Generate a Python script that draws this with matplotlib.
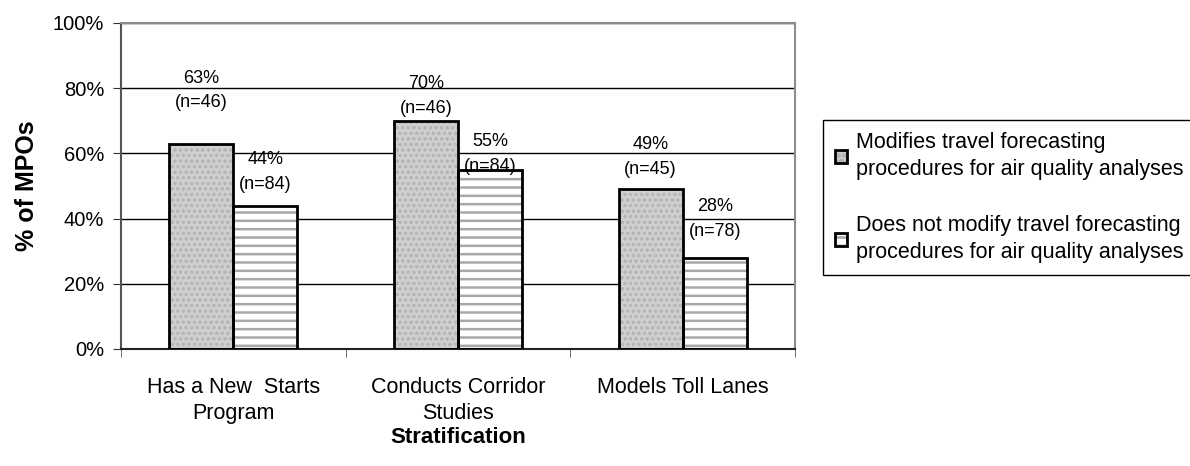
import matplotlib
import matplotlib.pyplot as plt
import numpy as np

matplotlib.use("Agg")

categories = ["Has a New  Starts\nProgram", "Conducts Corridor\nStudies", "Models Toll Lanes"]
modifies = [63, 70, 49]
modifies_n = [46, 46, 45]
not_modifies = [44, 55, 28]
not_modifies_n = [84, 84, 78]
series_names = [
    "Modifies travel forecasting\nprocedures for air quality analyses",
    "Does not modify travel forecasting\nprocedures for air quality analyses",
]


def main():
    plt.rcParams["font.family"] = ["Liberation Sans", "DejaVu Sans"]
    plt.rcParams["font.size"] = 14.5

    fig = plt.figure(figsize=(11.9, 4.66), dpi=100)
    ax = fig.add_axes([121 / 1190, 1 - 349 / 466, 674 / 1190, 326 / 466])

    x = np.arange(len(categories)) + 0.5
    w = 0.285

    # fill and outline drawn separately so the hatch can be grey
    plt.rcParams["hatch.linewidth"] = 0.6
    fill1 = ax.bar(x - w / 2, modifies, w, color="#cfcfcf", hatch="ooo",
                   edgecolor="#b4b4b4", linewidth=0, zorder=2)
    plt.rcParams["hatch.linewidth"] = 1.8
    fill2 = ax.bar(x + w / 2, not_modifies, w, color="white", hatch="--",
                   edgecolor="#a8a8a8", linewidth=0, zorder=2)
    edge1 = ax.bar(x - w / 2, modifies, w, fill=False, edgecolor="black",
                   linewidth=2, zorder=3)
    edge2 = ax.bar(x + w / 2, not_modifies, w, fill=False, edgecolor="black",
                   linewidth=2, zorder=3)

    # label positions (middle of the two text lines), as placed in the original
    pos1 = [79.3, 77.5, 58.8]
    pos2 = [54.2, 59.7, 39.8]
    for i in range(len(categories)):
        ax.text(x[i] - w / 2, pos1[i], f"{modifies[i]}%\n(n={modifies_n[i]})",
                ha="center", va="center", linespacing=1.6, fontsize=13, zorder=4)
        ax.text(x[i] + w / 2, pos2[i], f"{not_modifies[i]}%\n(n={not_modifies_n[i]})",
                ha="center", va="center", linespacing=1.6, fontsize=13, zorder=4)

    ax.set_xlim(0, len(categories))
    ax.set_ylim(0, 100)
    ax.set_yticks(range(0, 101, 20))
    ax.set_yticklabels([f"{v}%" for v in range(0, 101, 20)])
    ax.yaxis.grid(True, color="black", linewidth=1)
    ax.set_axisbelow(True)

    ax.set_xticks(x)
    ax.set_xticklabels(categories, linespacing=1.3, fontsize=15.5)
    ax.set_xticks(np.arange(len(categories) + 1), minor=True)
    ax.tick_params(axis="x", which="major", length=0, pad=20)
    ax.tick_params(axis="x", which="minor", length=6, color="#555555")
    ax.tick_params(axis="y", length=6, color="#333333", pad=6)

    ax.spines["left"].set_color("#555555")
    ax.spines["bottom"].set_color("#222222")
    ax.spines["top"].set_color("#8c8c8c")
    ax.spines["right"].set_color("#8c8c8c")
    for s in ax.spines.values():
        s.set_linewidth(1.5)

    ax.set_xlabel("Stratification", fontsize=16, fontweight="bold")
    ax.xaxis.set_label_coords(0.5, -0.24)
    ax.set_ylabel("% of MPOs", fontsize=18, fontweight="bold")
    ax.yaxis.set_label_coords(-0.122, 0.5)

    leg = fig.legend(handles=[(fill1, edge1), (fill2, edge2)], labels=series_names,
                     loc="upper left", bbox_to_anchor=(823 / 1190, 1 - 120 / 466),
                     fancybox=False, framealpha=1, edgecolor="black", fontsize=15.5,
                     handlelength=0.55, handleheight=0.55, handletextpad=0.45,
                     labelspacing=1.6, borderpad=0.55, borderaxespad=0)
    leg.get_frame().set_linewidth(1)
    for t in leg.get_texts():
        t.set_linespacing(1.4)

    fig.savefig("out.png", dpi=100)
    return 0


if __name__ == "__main__":
    main()
